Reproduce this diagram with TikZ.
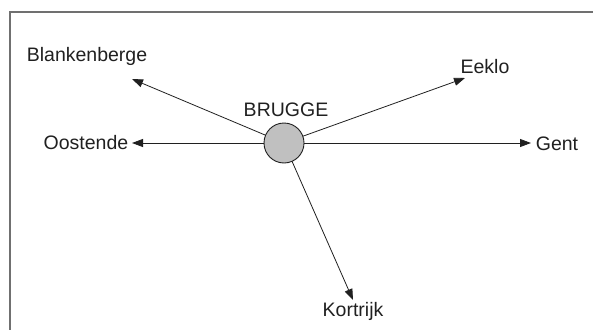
\documentclass[tikz,border=0pt]{standalone}
\usepackage{fontspec}
\setmainfont{Liberation Sans}
\usetikzlibrary{arrows.meta}
\definecolor{framegray}{HTML}{707070}
\definecolor{hubfill}{HTML}{C0C0C0}
\definecolor{inkgray}{HTML}{202020}
\tikzset{
  city/.style={inner sep=0pt, font=\fontsize{19.5}{19.5}\selectfont, text=inkgray},
  hub/.style={circle, draw=inkgray, line width=0.9pt, fill=hubfill, minimum size=40pt, inner sep=0pt},
  road/.style={draw=inkgray, line width=0.8pt, -{Triangle[length=11pt,width=8pt]}},
  frameline/.style={draw=framegray, line width=2pt}
}
\begin{document}
\begin{tikzpicture}[x=1pt, y=-1pt]
  \useasboundingbox (0,0) rectangle (593,329);
  % outer frame (left and top edges only)
  \coordinate (fbl) at (10,330);
  \coordinate (ftl) at (10,12);
  \coordinate (ftr) at (594,12);
  \draw[frameline] (fbl) -- (ftl) -- (ftr);

  % city labels
  \node[city] (blank) at (87,56) {Blankenberge};
  \node[city] (oost)  at (86,143) {Oostende};
  \node[city] (eeklo) at (485,67) {Eeklo};
  \node[city] (gent)  at (557,144) {Gent};
  \node[city] (kort)  at (353,311) {Kortrijk};
  \node[city] (bruggelabel) at (286,110) {BRUGGE};

  % arrow tips next to each label
  \coordinate (tipBlank) at (132,79);
  \coordinate (tipOost)  at (132,143);
  \coordinate (tipEeklo) at (465,78);
  \coordinate (tipGent)  at (531,143);
  \coordinate (tipKort)  at (353,300);

  % the hub and its roads
  \coordinate (center) at (284,143);
  \draw[road] (center) -- (tipBlank);
  \draw[road] (center) -- (tipOost);
  \draw[road] (center) -- (tipEeklo);
  \draw[road] (center) -- (tipGent);
  \draw[road] (center) -- (tipKort);
  \node[hub] (brugge) at (center) {};
\end{tikzpicture}
\end{document}
